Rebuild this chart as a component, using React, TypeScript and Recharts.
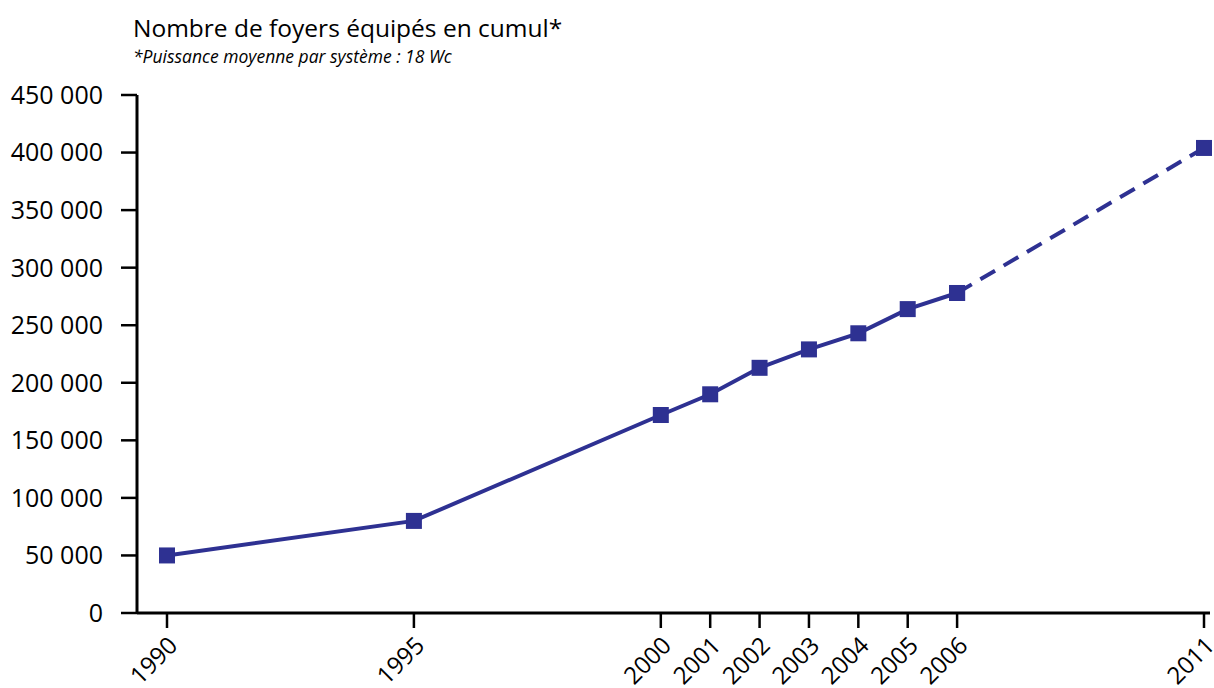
import { CartesianGrid, Line, LineChart, XAxis, YAxis } from "recharts";

const YEARS = [1990, 1995, 2000, 2001, 2002, 2003, 2004, 2005, 2006, 2011];
const MEASURED = [50000, 80000, 172000, 190000, 213000, 229000, 243000, 264000, 278000, null];
const PROJECTED = [null, null, null, null, null, null, null, null, 278000, 404000];
const Y_TICKS = [0, 50000, 100000, 150000, 200000, 250000, 300000, 350000, 400000, 450000];

const BLUE = "#2e3192";
const FONT = "'Open Sans', 'Noto Sans', sans-serif";

const data = YEARS.map((year, i) => ({
  year,
  measured: MEASURED[i],
  projected: PROJECTED[i],
}));

function formatThousands(v: number) {
  return String(v).replace(/\B(?=(\d{3})+(?!\d))/g, " ");
}

function SquareDot(props: any) {
  const { cx, cy, index, dataKey } = props;
  if (cx == null || cy == null) return <g key={`${dataKey}-${index}`} />;
  return (
    <rect key={`${dataKey}-${index}`} x={cx - 8} y={cy - 8} width={16} height={16} fill={BLUE} />
  );
}

function YearTick(props: any) {
  const { x, y, payload } = props;
  return (
    <g transform={`translate(${x + 12},${y + 17})`}>
      <text
        x={0}
        y={0}
        textAnchor="end"
        transform="rotate(-45)"
        fontSize={24}
        fontFamily={FONT}
        fill="#000"
      >
        {payload.value}
      </text>
    </g>
  );
}

export default function App() {
  return (
    <div style={{ position: "absolute", left: 0, top: 0, width: 1214, height: 688, background: "#fff" }}>
      <svg
        width={1214}
        height={80}
        style={{ position: "absolute", left: 0, top: 0, pointerEvents: "none" }}
      >
        <text x={133} y={37} fontSize={24.5} fontFamily={FONT} fill="#000">
          Nombre de foyers équipés en cumul*
        </text>
        <text x={133} y={63} fontSize={17.5} fontStyle="italic" fontFamily={FONT} fill="#000">
          *Puissance moyenne par système : 18 Wc
        </text>
      </svg>
      <LineChart width={1214} height={688} data={data} margin={{ top: 95, right: 4, bottom: 0, left: 0 }}>
        <CartesianGrid stroke="none" />
        <XAxis
          dataKey="year"
          type="number"
          domain={[1990, 2011]}
          ticks={YEARS}
          padding={{ left: 30, right: 6 }}
          height={75}
          tickSize={15}
          axisLine={{ stroke: "#000", strokeWidth: 3 }}
          tickLine={{ stroke: "#000", strokeWidth: 2.5 }}
          tick={<YearTick />}
          interval={0}
        />
        <YAxis
          width={137}
          domain={[0, 450000]}
          ticks={Y_TICKS}
          tickFormatter={formatThousands}
          tickSize={16}
          tickMargin={18}
          axisLine={{ stroke: "#000", strokeWidth: 3 }}
          tickLine={{ stroke: "#000", strokeWidth: 2.5 }}
          tick={{ fill: "#000", fontSize: 25, fontFamily: FONT }}
          interval={0}
        />
        <Line
          dataKey="measured"
          stroke={BLUE}
          strokeWidth={4}
          dot={SquareDot}
          activeDot={false}
          isAnimationActive={false}
        />
        <Line
          dataKey="projected"
          stroke={BLUE}
          strokeWidth={4}
          strokeDasharray="17 10"
          dot={SquareDot}
          activeDot={false}
          isAnimationActive={false}
        />
      </LineChart>
    </div>
  );
}
